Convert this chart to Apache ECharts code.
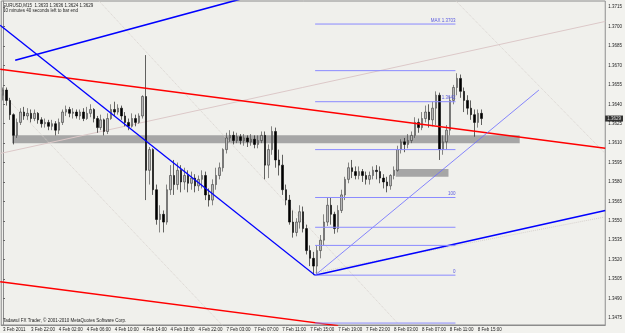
<!DOCTYPE html>
<html><head><meta charset="utf-8">
<script src="https://cdn.jsdelivr.net/npm/echarts@6/dist/echarts.min.js"></script>
<style>html,body{margin:0;padding:0;background:#f2f2ee;}#c{width:625px;height:333px;}</style>
</head><body><div id="c"></div>
<script>
// ---- data (EURUSD, 30-minute resolution of the M15 chart) ----
const barCount = 173; // 138 price bars + empty shift area
const xTickLabels = ['3 Feb 2011','3 Feb 22:00','4 Feb 02:00','4 Feb 06:00','4 Feb 10:00','4 Feb 14:00','4 Feb 18:00','4 Feb 22:00','7 Feb 03:00','7 Feb 07:00','7 Feb 11:00','7 Feb 15:00','7 Feb 19:00','7 Feb 23:00','8 Feb 03:00','8 Feb 07:00','8 Feb 11:00','8 Feb 15:00'];
const yTicks = [1.3475,1.3490,1.3505,1.3520,1.3535,1.3550,1.3565,1.3580,1.3595,1.3610,1.3625,1.3640,1.3655,1.3670,1.3685,1.3700,1.3715];
// [open, close, low, high]
const ohlc = [
[1.3647,1.3651,1.3643,1.3653],[1.3651,1.3643,1.3639,1.3653],[1.3643,1.3632,1.3628,1.3645],[1.3632,1.3616,1.3609,1.3633],
[1.3616,1.3626,1.3614,1.3629],[1.3626,1.3634,1.3624,1.3637],[1.3634,1.3631,1.3628,1.3638],[1.3631,1.3633,1.3628,1.3637],
[1.3633,1.3629,1.3626,1.3636],[1.3629,1.3633,1.3627,1.3636],[1.3633,1.3628,1.3625,1.3634],[1.3628,1.3625,1.3622,1.3630],
[1.3625,1.3626,1.3622,1.3629],[1.3626,1.3623,1.3620,1.3628],[1.3623,1.3625,1.3620,1.3628],[1.3625,1.3620,1.3616,1.3627],
[1.3620,1.3626,1.3617,1.3629],[1.3626,1.3634,1.3624,1.3636],[1.3634,1.3636,1.3631,1.3639],[1.3636,1.3633,1.3630,1.3638],
[1.3633,1.3634,1.3629,1.3637],[1.3634,1.3631,1.3629,1.3636],[1.3631,1.3634,1.3628,1.3636],[1.3634,1.3629,1.3627,1.3637],
[1.3629,1.3633,1.3628,1.3638],[1.3633,1.3636,1.3630,1.3640],[1.3636,1.3629,1.3626,1.3637],[1.3629,1.3622,1.3618,1.3631],
[1.3622,1.3628,1.3620,1.3632],[1.3628,1.3619,1.3616,1.3629],[1.3619,1.3629,1.3617,1.3633],[1.3629,1.3636,1.3628,1.3640],
[1.3636,1.3634,1.3631,1.3642],[1.3634,1.3637,1.3632,1.3640],[1.3637,1.3631,1.3628,1.3639],[1.3631,1.3626,1.3623,1.3634],
[1.3626,1.3623,1.3620,1.3629],[1.3623,1.3629,1.3622,1.3633],[1.3629,1.3626,1.3623,1.3632],[1.3626,1.3631,1.3625,1.3633],
[1.3631,1.3646,1.3629,1.3647],[1.3646,1.3589,1.3566,1.3678],[1.3589,1.3605,1.3578,1.3607],[1.3605,1.3574,1.3570,1.3606],
[1.3574,1.3551,1.3547,1.3578],[1.3551,1.3555,1.3541,1.3562],[1.3555,1.3549,1.3541,1.3558],[1.3549,1.3574,1.3547,1.3578],
[1.3574,1.3585,1.3570,1.3593],[1.3585,1.3578,1.3570,1.3597],[1.3578,1.3589,1.3574,1.3595],[1.3589,1.3580,1.3572,1.3593],
[1.3580,1.3585,1.3574,1.3591],[1.3585,1.3579,1.3572,1.3589],[1.3579,1.3583,1.3574,1.3588],[1.3583,1.3577,1.3572,1.3586],
[1.3577,1.3582,1.3573,1.3585],[1.3582,1.3585,1.3575,1.3589],[1.3585,1.3570,1.3566,1.3588],[1.3570,1.3566,1.3561,1.3575],
[1.3566,1.3578,1.3562,1.3582],[1.3578,1.3585,1.3574,1.3591],[1.3585,1.3591,1.3582,1.3595],[1.3591,1.3605,1.3588,1.3606],
[1.3605,1.3614,1.3602,1.3618],[1.3614,1.3616,1.3611,1.3620],[1.3616,1.3612,1.3609,1.3619],[1.3612,1.3615,1.3610,1.3618],
[1.3615,1.3612,1.3609,1.3617],[1.3612,1.3614,1.3608,1.3617],[1.3614,1.3611,1.3607,1.3616],[1.3611,1.3613,1.3608,1.3617],
[1.3613,1.3609,1.3606,1.3616],[1.3609,1.3612,1.3606,1.3616],[1.3612,1.3616,1.3610,1.3619],[1.3616,1.3593,1.3582,1.3619],
[1.3593,1.3605,1.3583,1.3609],[1.3605,1.3619,1.3601,1.3623],[1.3619,1.3597,1.3591,1.3622],[1.3597,1.3593,1.3585,1.3605],
[1.3593,1.3574,1.3570,1.3601],[1.3574,1.3566,1.3562,1.3578],[1.3566,1.3549,1.3547,1.3570],[1.3549,1.3541,1.3537,1.3558],
[1.3541,1.3549,1.3538,1.3552],[1.3549,1.3557,1.3544,1.3562],[1.3557,1.3544,1.3541,1.3561],[1.3544,1.3527,1.3524,1.3547],
[1.3527,1.3521,1.3515,1.3531],[1.3521,1.3515,1.3508,1.3526],[1.3515,1.3527,1.3509,1.3531],[1.3527,1.3535,1.3521,1.3539],
[1.3535,1.3549,1.3531,1.3555],[1.3549,1.3562,1.3546,1.3568],[1.3562,1.3555,1.3547,1.3568],[1.3555,1.3544,1.3540,1.3557],
[1.3544,1.3558,1.3541,1.3562],[1.3558,1.3570,1.3556,1.3574],[1.3570,1.3582,1.3566,1.3584],[1.3582,1.3591,1.3579,1.3595],
[1.3591,1.3588,1.3583,1.3597],[1.3588,1.3585,1.3582,1.3592],[1.3585,1.3588,1.3582,1.3592],[1.3588,1.3585,1.3580,1.3590],
[1.3585,1.3582,1.3578,1.3588],[1.3582,1.3585,1.3578,1.3588],[1.3585,1.3589,1.3582,1.3592],[1.3589,1.3588,1.3582,1.3593],
[1.3588,1.3583,1.3579,1.3592],[1.3583,1.3580,1.3575,1.3586],[1.3580,1.3577,1.3572,1.3584],[1.3577,1.3585,1.3574,1.3586],
[1.3585,1.3589,1.3582,1.3592],[1.3589,1.3605,1.3588,1.3608],[1.3605,1.3611,1.3602,1.3613],[1.3611,1.3609,1.3603,1.3614],
[1.3609,1.3612,1.3606,1.3617],[1.3612,1.3616,1.3610,1.3619],[1.3616,1.3626,1.3614,1.3630],[1.3626,1.3622,1.3618,1.3629],
[1.3622,1.3629,1.3620,1.3634],[1.3629,1.3634,1.3626,1.3639],[1.3634,1.3628,1.3622,1.3640],[1.3628,1.3637,1.3623,1.3642],
[1.3637,1.3647,1.3624,1.3650],[1.3647,1.3605,1.3597,1.3649],[1.3605,1.3611,1.3601,1.3616],[1.3611,1.3620,1.3605,1.3624],
[1.3620,1.3643,1.3616,1.3646],[1.3643,1.3653,1.3640,1.3655],[1.3653,1.3660,1.3647,1.3664],[1.3660,1.3650,1.3645,1.3663],
[1.3650,1.3643,1.3634,1.3653],[1.3643,1.3637,1.3632,1.3647],[1.3637,1.3632,1.3628,1.3643],[1.3632,1.3626,1.3615,1.3636],
[1.3626,1.3633,1.3622,1.3636],[1.3633,1.3629,1.3624,1.3636]
];
const lastPrice = 1.3629;
// trend lines: [bar position, price] pairs
const redUpper = [[-0.8,1.3667],[172.5,1.3606]];
const redLower = [[-0.8,1.3503],[96.0,1.3469]];
const blueDown = [[-0.8,1.3701],[89.4,1.3508]];
const blueTop = [[3.5,1.3674],[70.4,1.3723]];
const blueUp = [[89.4,1.3508],[172.5,1.3558]];
const blueThin = [[89.4,1.3508],[153.5,1.3651]];
const faintA = [[-0.8,1.3602],[172.5,1.3704]];
const faintE = [[89.4,1.3510],[172.5,1.3553]];
const faintD1 = [[-0.8,1.3650],[67.5,1.3456]];
const faintD2 = [[27.1,1.3721],[113.0,1.3471]];
const faintD3 = [[129.3,1.3721],[172.5,1.3602]];
// fibonacci expansion levels
const fibStart = 89.4, fibEnd = 129.6;
const fibLevels = [1.3471,1.3508,1.3531,1.3545,1.3568,1.3605,1.3642,1.3666,1.3702];
const fibLabels = ['','0','','','100','','1.3642','','MAX 1.3703'];
// support zones [x1, price1, x2, price2]
const zones = [[2.6,1.3616,148.0,1.3610],[112.5,1.3590,127.6,1.3584]];

const cats = Array.from({length: barCount}, (_, i) => String(i));
const FONT = 'Liberation Sans';
const chart = echarts.init(document.getElementById('c'));
function lineSeries(data, color, width, z, type) {
  return {type:'line', xAxisIndex:1, data, showSymbol:false, symbol:'none', silent:true, z: z||3,
    lineStyle:{color, width, type: type||'solid'}, animation:false};
}
const series = [
  {type:'line', xAxisIndex:1, data:[], silent:true, z:1,
    markArea:{silent:true, itemStyle:{color:'#a6a6a6'},
      data: zones.map(z => [{coord:[z[0], z[1]]},{coord:[z[2], z[3]]}])}},
  {type:'scatter', xAxisIndex:1, silent:true, z:7, clip:false, symbolSize:0.01, animation:false,
    itemStyle:{color:'rgba(0,0,0,0)'},
    data:[[barCount - 0.5, lastPrice]],
    label:{show:true, position:'right', distance:0, formatter: () => lastPrice.toFixed(4), color:'#ffffff',
      backgroundColor:'#000000', padding:[1,2,0,2], fontSize:4.5, fontFamily:FONT}},
  lineSeries(faintA, '#dcc8c8', 1, 1),
  lineSeries(faintE, '#d8d2ce', 1, 1, 'dotted'),
  lineSeries(faintD1, '#d8d2ce', 1, 1, 'dotted'),
  lineSeries(faintD2, '#d8d2ce', 1, 1, 'dotted'),
  lineSeries(faintD3, '#d8d2ce', 1, 1, 'dotted'),
  {type:'candlestick', data: ohlc, barWidth: 2, z:4,
    itemStyle:{color:'#b8b8b8', color0:'#000000', borderColor:'#3a3a3a', borderColor0:'#000000', borderWidth:0.6},
    animation:false},
  lineSeries(redUpper, '#ff0000', 1.5, 5),
  lineSeries(redLower, '#ff0000', 1.5, 5),
  lineSeries(blueDown, '#0000ff', 1.2, 5),
  lineSeries(blueTop, '#0000ff', 1.6, 5),
  lineSeries(blueUp, '#0000ff', 1.6, 5),
  lineSeries(blueThin, '#6a6aff', 0.8, 5),
];
fibLevels.forEach((lv, k) => {
  series.push({type:'line', xAxisIndex:1, silent:true, symbol:'circle', symbolSize:0.01, showSymbol:true, z:6, animation:false,
    itemStyle:{color:'rgba(0,0,0,0)'},
    lineStyle:{color:'#8a8aff', width:1},
    data:[{value:[fibStart, lv], label:{show:false}},
      {value:[fibEnd, lv], label:{show: !!fibLabels[k], position:'top', align:'right',
      distance:1, formatter: fibLabels[k], color:'#5a5ae0', fontSize:4.5, fontFamily:FONT}}]});
});
chart.setOption({
  animation:false,
  backgroundColor:'#f2f2ee',
  grid:{left:1, top:1, width:608, height:324, show:true, borderColor:'#8c8c8c', borderWidth:1, backgroundColor:'#f0f0ec'},
  xAxis:[
    {type:'category', data:cats, boundaryGap:true,
      axisLine:{lineStyle:{color:'#8c8c8c'}},
      axisTick:{interval:(i)=> i%8===0, length:2, lineStyle:{color:'#666'}},
      axisLabel:{interval:(i)=> i%8===0, formatter:(v, i)=> xTickLabels[i/8] || '', fontSize:4.5, fontFamily:FONT,
        color:'#222', align:'left', margin:2},
      splitLine:{show:false}},
    {type:'value', min:-0.5, max:barCount-0.5, show:false}
  ],
  yAxis:{type:'value', position:'right', min:1.34695, max:1.37198, scale:true,
    axisLine:{show:true, lineStyle:{color:'#8c8c8c'}},
    axisTick:{show:true, length:2, customValues:yTicks, lineStyle:{color:'#666'}},
    axisLabel:{customValues:yTicks, formatter:(v)=> v.toFixed(4), fontSize:4.5, fontFamily:FONT, color:'#222', margin:3},
    splitLine:{show:false}},
  graphic:[
    {type:'text', left:3, top:3, style:{text:'EURUSD,M15  1.3633 1.3636 1.3624 1.3629', fontSize:4.5, fontFamily:FONT, fill:'#222'}},
    {type:'text', left:3, top:8, style:{text:'10 minutes 40 seconds left to bar end', fontSize:4.5, fontFamily:FONT, fill:'#222'}},
    {type:'text', left:3, top:318, style:{text:'Tadawul FX Trader, © 2001-2010 MetaQuotes Software Corp.', fontSize:4.5, fontFamily:FONT, fill:'#222'}}
  ],
  series
});
</script></body></html>
